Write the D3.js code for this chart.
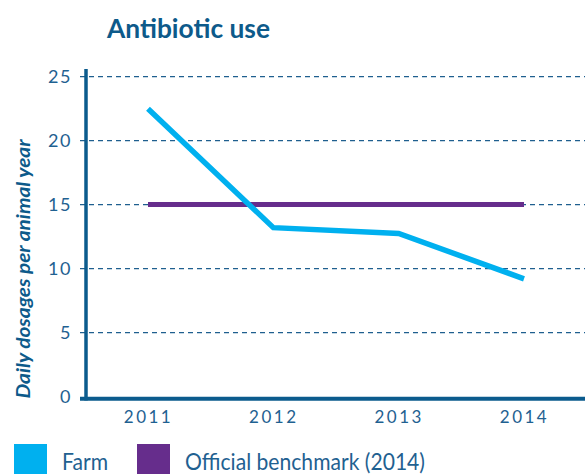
<!DOCTYPE html>
<meta charset="utf-8">
<script src="https://d3js.org/d3.v7.min.js"></script>
<style>
  body { margin: 0; background: #fff; }
  text { font-family: Lato, "Open Sans", sans-serif; }
</style>
<div id="chart"></div>
<script>

// data
var years = ["2011", "2012", "2013", "2014"];
var farm = [22.5, 13.2, 12.75, 9.2];
var benchmark = [15, 15, 15, 15];
var yTicks = [0, 5, 10, 15, 20, 25];
var legendLabels = ["Farm", "Official benchmark (2014)"];

var W = 585, H = 474;
var blue = "#0b5b8d", textBlue = "#1f6191";

var svg = d3.select("#chart").append("svg")
  .attr("width", W)
  .attr("height", H);

var x = d3.scalePoint().domain(years).range([148, 524]);
var y = d3.scaleLinear().domain([0, 25]).range([396.5, 76.7]);

// title
svg.append("text")
  .attr("x", 107).attr("y", 38)
  .attr("font-size", 27).attr("font-weight", 700)
  .attr("fill", "#0d5a8a")
  .attr("textLength", 163).attr("lengthAdjust", "spacingAndGlyphs")
  .text("Antibiotic use");

// grid lines (dashed)
svg.append("g").selectAll("line")
  .data(yTicks.filter(function(d) { return d > 0; }))
  .enter().append("line")
    .attr("x1", 80).attr("x2", W)
    .attr("y1", function(d) { return y(d); })
    .attr("y2", function(d) { return y(d); })
    .attr("stroke", "#1f5f8f")
    .attr("stroke-width", 1.3)
    .attr("stroke-dasharray", "5,4");

// y tick labels
var yAxis = svg.append("g")
  .attr("transform", "translate(75,0)")
  .call(d3.axisLeft(y).tickValues(yTicks).tickSize(0).tickPadding(3));
yAxis.select(".domain").remove();
yAxis.selectAll("text")
  .attr("font-family", "Lato, sans-serif")
  .attr("font-size", 18)
  .attr("fill", textBlue)
  .attr("letter-spacing", 1.5);

// x tick labels
var xAxis = svg.append("g")
  .attr("transform", "translate(0,400)")
  .call(d3.axisBottom(x).tickSize(0).tickPadding(11));
xAxis.select(".domain").remove();
xAxis.selectAll("text")
  .attr("font-family", "Lato, sans-serif")
  .attr("font-size", 17)
  .attr("fill", textBlue)
  .attr("letter-spacing", 2.5);

// axis lines
svg.append("line")
  .attr("x1", 86).attr("x2", 86)
  .attr("y1", 69).attr("y2", 400.5)
  .attr("stroke", blue).attr("stroke-width", 3.5);
svg.append("line")
  .attr("x1", 80).attr("x2", W)
  .attr("y1", 398.7).attr("y2", 398.7)
  .attr("stroke", blue).attr("stroke-width", 4);

// y axis title
svg.append("text")
  .attr("transform", "translate(30," + 269 + ") rotate(-90)")
  .attr("text-anchor", "middle")
  .attr("font-size", 19).attr("font-weight", 700).attr("font-style", "italic")
  .attr("fill", "#0d5a8a")
  .attr("textLength", 259).attr("lengthAdjust", "spacingAndGlyphs")
  .text("Daily dosages per animal year");

var line = d3.line()
  .x(function(d, i) { return x(years[i]); })
  .y(function(d) { return y(d); });

// benchmark
svg.append("path")
  .datum(benchmark)
  .attr("d", line)
  .attr("fill", "none")
  .attr("stroke", "#662d8c")
  .attr("stroke-width", 5);

// farm
svg.append("path")
  .datum(farm)
  .attr("d", line)
  .attr("fill", "none")
  .attr("stroke", "#00b0ef")
  .attr("stroke-width", 5.5)
  .attr("stroke-linejoin", "miter");

// legend
var legendColors = ["#00b0ef", "#662d8c"];
var legendX = [14, 137];
var legendW = [46, 240];
var lg = svg.append("g").selectAll("g")
  .data(legendLabels)
  .enter().append("g")
    .attr("transform", function(d, i) { return "translate(" + legendX[i] + ",444)"; });
lg.append("rect")
  .attr("width", 33).attr("height", 32)
  .attr("fill", function(d, i) { return legendColors[i]; });
lg.append("text")
  .attr("x", 48).attr("y", 26)
  .attr("font-size", 23)
  .attr("fill", textBlue)
  .attr("textLength", function(d, i) { return legendW[i]; })
  .attr("lengthAdjust", "spacingAndGlyphs")
  .text(function(d) { return d; });

</script>
